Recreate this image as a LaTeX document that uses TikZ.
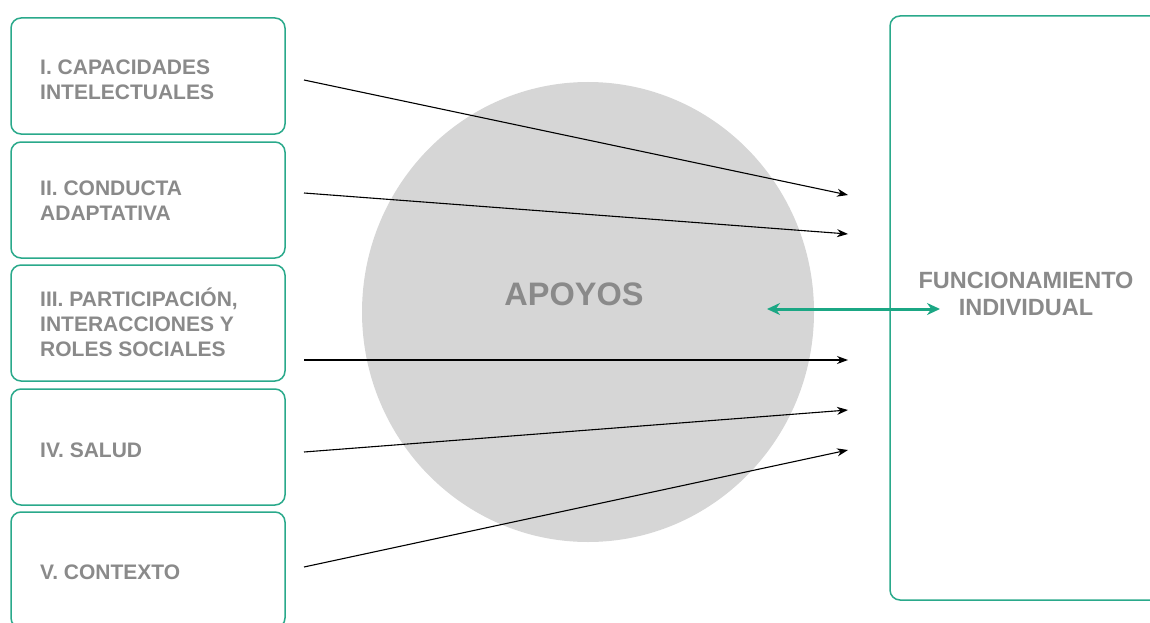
\documentclass[tikz,border=0pt]{standalone}
\usepackage{fontspec}
\setmainfont{Liberation Sans}
\usetikzlibrary{arrows.meta,shapes.geometric}
\definecolor{teal1}{HTML}{2AA98B}
\definecolor{teal2}{HTML}{1BA784}
\definecolor{txtgray}{HTML}{8A8A8A}
\definecolor{circgray}{HTML}{D6D6D6}
\tikzset{
  boxframe/.style={draw=teal1, line width=1.5pt, rounded corners=10pt, fill=white, inner sep=0pt},
  boxlabel/.style={anchor=west, align=left, inner sep=0pt, text=txtgray, font=\bfseries\fontsize{21}{25}\selectfont},
  biglabel/.style={align=center, inner sep=0pt, text=txtgray, font=\bfseries\fontsize{23.5}{27}\selectfont},
  flow/.style={draw=black, line width=1.1pt, -{Stealth[length=11pt,width=8pt]}},
  link/.style={draw=teal2, line width=3pt, {Stealth[length=13pt,width=12pt]}-{Stealth[length=13pt,width=12pt]}}
}
\begin{document}
\begin{tikzpicture}[x=1pt,y=-1pt]
\path[use as bounding box] (0,0) rectangle (1150,623);
\clip (0,0) rectangle (1150,623);
% circle
\node[ellipse, fill=circgray, minimum width=452pt, minimum height=460pt, inner sep=0pt] (sup) at (588,312) {};
\node[font=\bfseries\fontsize{32.5}{38}\selectfont, text=txtgray, inner sep=0pt] (apoyos) at (574,294) {APOYOS};
% left boxes
\node[boxframe, minimum width=274pt, minimum height=116pt] (b1) at (148,76) {};
\node[boxframe, minimum width=274pt, minimum height=116pt] (b2) at (148,200) {};
\node[boxframe, minimum width=274pt, minimum height=116pt] (b3) at (148,323) {};
\node[boxframe, minimum width=274pt, minimum height=116pt] (b4) at (148,447) {};
\node[boxframe, minimum width=274pt, minimum height=116pt] (b5) at (148,570) {};
\node[boxlabel] (t1) at (40,79.5) {I. CAPACIDADES\\INTELECTUALES};
\node[boxlabel] (t2) at (40,201) {II. CONDUCTA\\ADAPTATIVA};
\node[boxlabel] (t3) at (40,322) {III. PARTICIPACIÓN,\\INTERACCIONES Y\\ROLES SOCIALES};
\node[boxlabel] (t4) at (40,450) {IV. SALUD};
\node[boxlabel] (t5) at (40,572) {V. CONTEXTO};
% right box
\node[boxframe, fill=none, minimum width=290pt, minimum height=584pt] (fb) at (1035,308) {};
\node[biglabel] (fi) at (1026,294) {FUNCIONAMIENTO\\INDIVIDUAL};
% arrows
\coordinate (s1) at (304,80);  \coordinate (e1) at (848,195);
\coordinate (s2) at (304,193); \coordinate (e2) at (848,234);
\coordinate (s3) at (304,360); \coordinate (e3) at (848,360);
\coordinate (s4) at (304,452); \coordinate (e4) at (848,410);
\coordinate (s5) at (304,567); \coordinate (e5) at (848,450);
\draw[flow] (s1) -- (e1);
\draw[flow] (s2) -- (e2);
\draw[flow] (s3) -- (e3);
\draw[flow] (s4) -- (e4);
\draw[flow] (s5) -- (e5);
\coordinate (la) at (767,309);
\coordinate (ra) at (940,309);
\draw[link] (la) -- (ra);
\end{tikzpicture}
\end{document}
